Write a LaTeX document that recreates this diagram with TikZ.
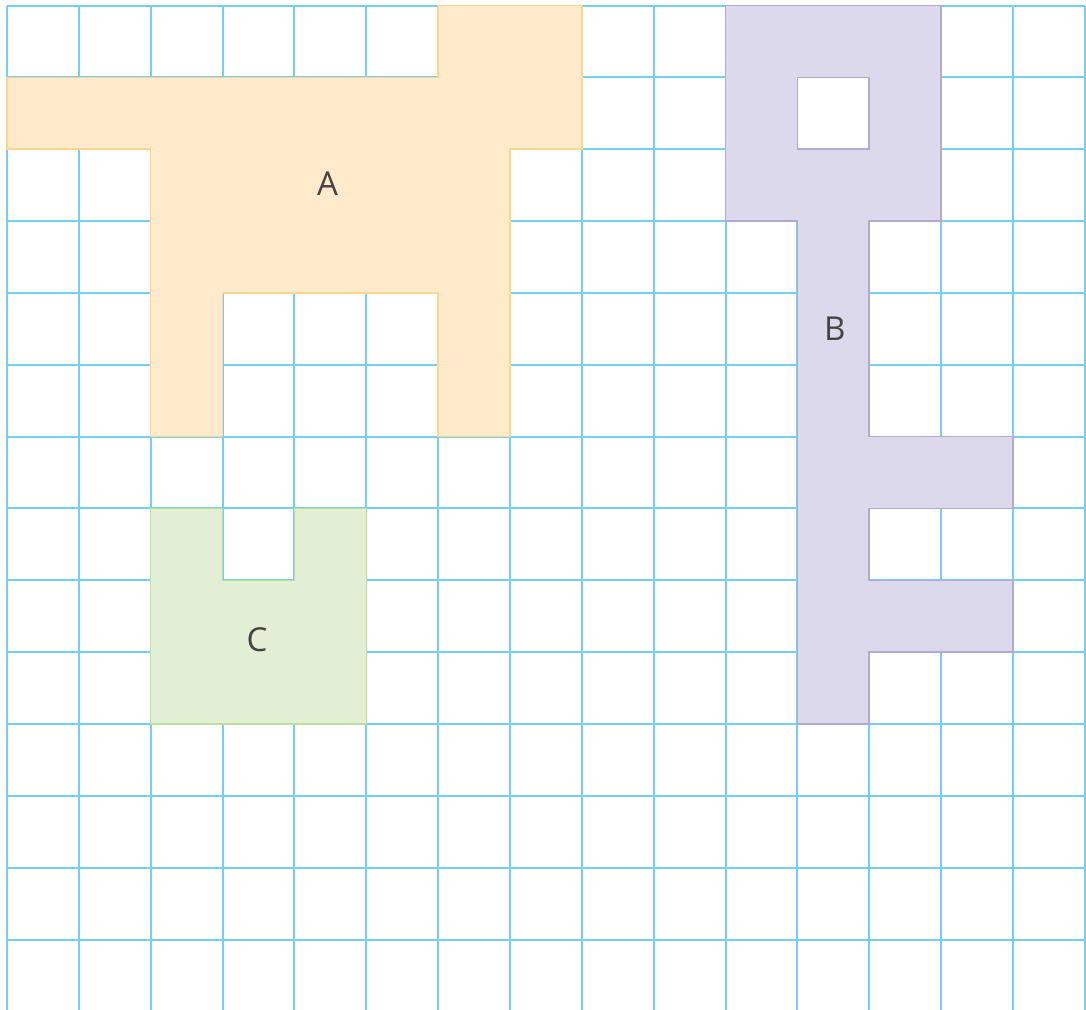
\documentclass[tikz,border=0pt]{standalone}
\usepackage{fontspec}
\setmainfont{Open Sans}
\definecolor{gridc}{HTML}{74CFF3}
\definecolor{afill}{HTML}{FFEBCC}
\definecolor{adraw}{HTML}{FFD591}
\definecolor{bfill}{HTML}{DCD9EC}
\definecolor{bdraw}{HTML}{B3A9D3}
\definecolor{cfill}{HTML}{E2EFD5}
\definecolor{cdraw}{HTML}{BADF98}
\definecolor{txt}{HTML}{444444}
\tikzset{
  gridline/.style={draw=gridc, line width=2pt},
  shapeA/.style={fill=afill, draw=adraw, line width=1.5pt, even odd rule},
  shapeB/.style={fill=bfill, draw=bdraw, line width=1.5pt, even odd rule},
  shapeC/.style={fill=cfill, draw=cdraw, line width=1.5pt, even odd rule},
  lbl/.style={text=txt, font=\fontsize{33}{36}\selectfont, inner sep=0pt}
}
\begin{document}
\begin{tikzpicture}[x=1pt,y=1pt]
\useasboundingbox (0,0) rectangle (1086,-1009);
\begin{scope}[shift={(7,-5.5)}, x=71.85pt, y=-71.85pt]
  % grid
  \foreach \i in {0,...,15} \draw[gridline] (\i,0) -- (\i,14.0);
  \foreach \j in {0,...,13} \draw[gridline] (0,\j) -- (15,\j);
  % A
  \path[shapeA] (6,0) -- (8,0) -- (8,2) -- (7,2) -- (7,6) -- (6,6) -- (6,4) -- (3,4) -- (3,6) -- (2,6) -- (2,2) -- (0,2) -- (0,1) -- (6,1) -- cycle;
  % B
  \path[shapeB] (10,0) -- (13,0) -- (13,3) -- (12,3) -- (12,6) -- (14,6) -- (14,7) -- (12,7) -- (12,8) -- (14,8) -- (14,9) -- (12,9) -- (12,10) -- (11,10) -- (11,3) -- (10,3) -- cycle
    (11,1) -- (12,1) -- (12,2) -- (11,2) -- cycle;
  % C
  \path[shapeC] (2,7) -- (3,7) -- (3,8) -- (4,8) -- (4,7) -- (5,7) -- (5,10) -- (2,10) -- cycle;
  \node[lbl] (la) at (4.46,2.48) {A};
  \node[lbl] (lb) at (11.52,4.5) {B};
  \node[lbl] (lc) at (3.48,8.83) {C};
\end{scope}
\end{tikzpicture}
\end{document}
